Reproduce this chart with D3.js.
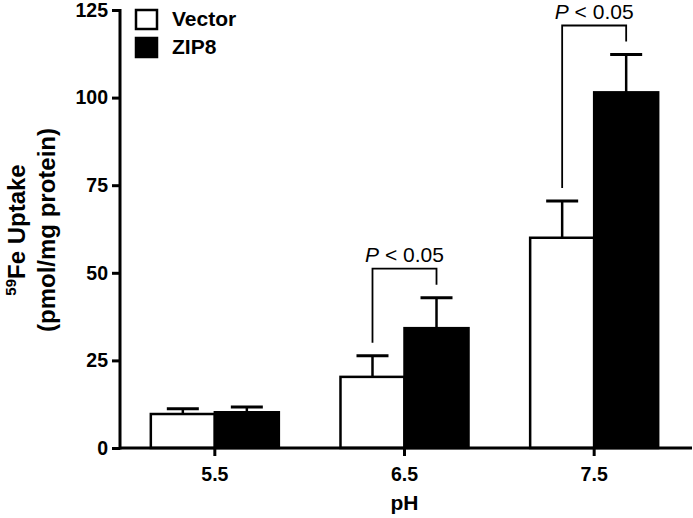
<!DOCTYPE html>
<html>
<head>
<meta charset="utf-8">
<script src="https://cdn.jsdelivr.net/npm/d3@7"></script>
<style>
  html, body { margin: 0; padding: 0; background: #fff; }
  svg { display: block; font-family: "Liberation Sans", Arial, Helvetica, sans-serif; }
</style>
</head>
<body>
<svg id="chart" width="693" height="518"></svg>
<script>
// ---- data ----
const categories = ["5.5", "6.5", "7.5"];
const seriesNames = ["Vector", "ZIP8"];
const vectorMean = [9.7, 20.3, 60.0];
const vectorErr  = [1.5, 6.0, 10.5];
const zip8Mean   = [10.2, 34.2, 101.5];
const zip8Err    = [1.5, 8.7, 10.8];
const yTicks = [0, 25, 50, 75, 100, 125];
const significance = [
  { category: "6.5", label: "P < 0.05" },
  { category: "7.5", label: "P < 0.05" }
];

(function () {
// ---- layout ----
const svg = d3.select("#chart");
const mLeft = 120, mRight = 692, mTop = 10, mBottom = 448;

const y = d3.scaleLinear().domain([0, 125]).range([mBottom, mTop]);
const x0 = d3.scaleBand().domain(categories).range([mLeft, 689]).padding(0);
const groupW = x0.bandwidth() * 0.675;
const x1 = d3.scaleBand().domain(seriesNames).range([0, groupW]).padding(0);
const fills = { "Vector": "#fff", "ZIP8": "#000" };

const rows = [];
categories.forEach((c, i) => {
  rows.push({ cat: c, s: "Vector", v: vectorMean[i], e: vectorErr[i] });
  rows.push({ cat: c, s: "ZIP8", v: zip8Mean[i], e: zip8Err[i] });
});
const barX = d => x0(d.cat) + (x0.bandwidth() - groupW) / 2 + x1(d.s);
const barCx = d => barX(d) + x1.bandwidth() / 2;

// error bars
const eb = svg.append("g");
rows.forEach(d => {
  eb.append("line").attr("x1", barCx(d)).attr("x2", barCx(d))
    .attr("y1", y(d.v)).attr("y2", y(d.v + d.e))
    .attr("stroke", "#000").attr("stroke-width", 2.5);
  eb.append("line").attr("x1", barCx(d) - 16).attr("x2", barCx(d) + 16)
    .attr("y1", y(d.v + d.e)).attr("y2", y(d.v + d.e))
    .attr("stroke", "#000").attr("stroke-width", 3);
});

// bars
svg.append("g").selectAll("rect").data(rows).join("rect")
  .attr("x", d => barX(d))
  .attr("y", d => y(d.v))
  .attr("width", x1.bandwidth())
  .attr("height", d => y(0) - y(d.v))
  .attr("fill", d => fills[d.s])
  .attr("stroke", "#000")
  .attr("stroke-width", 2.5);

// axes
const yAxis = svg.append("g").attr("transform", `translate(${mLeft},0)`)
  .call(d3.axisLeft(y).tickValues(yTicks).tickSize(8).tickPadding(4).tickFormat(d3.format("d")));
yAxis.select(".domain").remove();
yAxis.append("line").attr("x1", 0).attr("x2", 0).attr("y1", mTop - 1).attr("y2", mBottom + 1.5)
  .attr("stroke", "#000").attr("stroke-width", 3);
yAxis.selectAll(".tick line").attr("stroke-width", 3);
yAxis.selectAll(".tick text").attr("font-size", 19.5).attr("font-weight", "bold")
  .attr("font-family", "Liberation Sans, Arial, sans-serif").attr("fill", "#000");

const xAxis = svg.append("g").attr("transform", `translate(0,${mBottom})`)
  .call(d3.axisBottom(x0).tickSize(8).tickPadding(11));
xAxis.select(".domain").remove();
xAxis.append("line").attr("x1", mLeft).attr("x2", mRight).attr("y1", 0).attr("y2", 0)
  .attr("stroke", "#000").attr("stroke-width", 3);
xAxis.selectAll(".tick line").attr("stroke-width", 3);
xAxis.selectAll(".tick text").attr("font-size", 19.5).attr("font-weight", "bold")
  .attr("font-family", "Liberation Sans, Arial, sans-serif").attr("fill", "#000");

// x title
svg.append("text").attr("x", x0("6.5") + x0.bandwidth() / 2).attr("y", 510)
  .attr("text-anchor", "middle").attr("font-size", 21).attr("font-weight", "bold").text("pH");

// y title
const yt = svg.append("g").attr("transform", `translate(0,${(mTop + mBottom) / 2 + 1}) rotate(-90)`);
const t1 = yt.append("text").attr("x", 0).attr("y", 25).attr("text-anchor", "middle")
  .attr("font-size", 24).attr("font-weight", "bold");
t1.append("tspan").attr("font-size", 15).attr("dy", -9).text("59");
t1.append("tspan").attr("dy", 9).text("Fe Uptake");
yt.append("text").attr("x", 0).attr("y", 55).attr("text-anchor", "middle")
  .attr("font-size", 24).attr("font-weight", "bold").text("(pmol/mg protein)");

// legend
const lg = svg.append("g");
seriesNames.forEach((s, i) => {
  lg.append("rect").attr("x", 136).attr("y", 10 + i * 28).attr("width", 21).attr("height", 19)
    .attr("fill", fills[s]).attr("stroke", "#000").attr("stroke-width", 2.5);
  lg.append("text").attr("x", 172).attr("y", 26 + i * 28).attr("font-size", 21)
    .attr("font-weight", "bold").text(s);
});

// significance brackets
significance.forEach(sg => {
  const i = categories.indexOf(sg.category);
  const dv = { cat: sg.category, s: "Vector" }, dz = { cat: sg.category, s: "ZIP8" };
  const xl = barCx(dv), xr = barCx(dz);
  const yl = y(vectorMean[i] + vectorErr[i]) - 13;
  const yr = y(zip8Mean[i] + zip8Err[i]) - 13;
  const yTop = y(zip8Mean[i] + zip8Err[i]) - 29;
  svg.append("path").attr("d", `M${xl},${yl}V${yTop}H${xr}V${yr}`)
    .attr("fill", "none").attr("stroke", "#000").attr("stroke-width", 1.8);
  const parts = sg.label.split(" ");
  const tx = svg.append("text").attr("x", (xl + xr) / 2).attr("y", yTop - 7)
    .attr("text-anchor", "middle").attr("font-size", 21);
  tx.append("tspan").attr("font-style", "italic").text(parts[0]);
  tx.append("tspan").text(" " + parts.slice(1).join(" "));
});
})();
</script>
</body>
</html>
